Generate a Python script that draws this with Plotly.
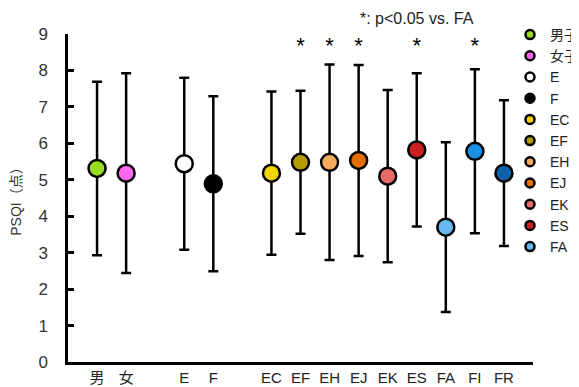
import plotly.graph_objects as go

categories = ["男", "女", "E", "F", "EC", "EF", "EH", "EJ", "EK", "ES", "FA", "FI", "FR"]
legend_names = ["男子", "女子", "E", "F", "EC", "EF", "EH", "EJ", "EK", "ES", "FA", "FI", "FR"]
x_pos = [1, 2, 4, 5, 7, 8, 9, 10, 11, 12, 13, 14, 15]
means = [5.31, 5.18, 5.44, 4.89, 5.18, 5.48, 5.48, 5.53, 5.10, 5.82, 3.70, 5.78, 5.18]
sds = [2.38, 2.74, 2.36, 2.40, 2.24, 1.96, 2.68, 2.62, 2.36, 2.10, 2.33, 2.25, 2.00]
colors = ["#99dd22", "#ff66f2", "#ffffff", "#000000", "#f2d500", "#b39c00", "#f7aa5e",
          "#e27000", "#ea6a6a", "#cc2020", "#66b8f0", "#1890e8", "#0f62a8"]
in_legend = [True] * 11 + [False, False]
sig = ["EF", "EH", "EJ", "ES", "FI"]
sig_y = 8.63

font_fam = "Liberation Sans, Arial, Noto Sans CJK JP, sans-serif"

fig = go.Figure()
for c, n, x, m, s, col in zip(categories, legend_names, x_pos, means, sds, colors):
    fig.add_trace(go.Scatter(
        x=[x], y=[m], mode="markers", name=n, showlegend=False,
        marker=dict(size=17, color=col, line=dict(color="black", width=2.5)),
        error_y=dict(type="data", array=[s], visible=True, color="black", thickness=2.5, width=5),
    ))

# small legend markers
for n, col, leg in zip(legend_names, colors, in_legend):
    if leg:
        fig.add_trace(go.Scatter(
            x=[None], y=[None], mode="markers", name=n, showlegend=True,
            marker=dict(size=9, color=col, line=dict(color="black", width=2.5)),
        ))

sig_x = [x_pos[categories.index(c)] for c in sig]
fig.add_trace(go.Scatter(
    x=sig_x, y=[sig_y] * len(sig_x), mode="text", text=["*"] * len(sig_x),
    textfont=dict(size=22, color="black", family=font_fam), showlegend=False, hoverinfo="skip",
))

fig.add_annotation(text="*: p<0.05 vs. FA", xref="paper", yref="paper",
                   x=0.7505, y=1.047,
                   xanchor="center", yanchor="middle", showarrow=False,
                   font=dict(size=16, color="#222", family=font_fam))

fig.update_layout(
    width=579, height=379,
    margin=dict(l=60, r=54, t=26, b=25, autoexpand=False),
    paper_bgcolor="white", plot_bgcolor="white",
    font=dict(family=font_fam, color="#222"),
    legend=dict(xref="container", yref="container", x=502 / 579, y=1 - 11 / 379,
                xanchor="left", yanchor="top", font=dict(size=14, family=font_fam, color="#222"),
                tracegroupgap=0, bgcolor="rgba(0,0,0,0)", borderwidth=0, itemwidth=30,
                maxheight=320),
    showlegend=True,
)
fig.update_xaxes(range=[0, 16], tickvals=x_pos, ticktext=categories, showgrid=False,
                 showline=True, linecolor="black", linewidth=2.5, ticks="", zeroline=False,
                 tickfont=dict(size=15, family=font_fam, color="#222"))
fig.update_yaxes(range=[0, 9], dtick=1, showgrid=False, showline=True, linecolor="black",
                 linewidth=2.5, ticks="inside", ticklen=6, tickwidth=2.5, tickcolor="black",
                 zeroline=False, ticklabelstandoff=14,
                 tickfont=dict(size=17, family=font_fam, color="#333"),
                 title=dict(text="PSQI（点）", font=dict(size=14, family=font_fam, color="#333"), standoff=17))

fig.write_html("out.html")
